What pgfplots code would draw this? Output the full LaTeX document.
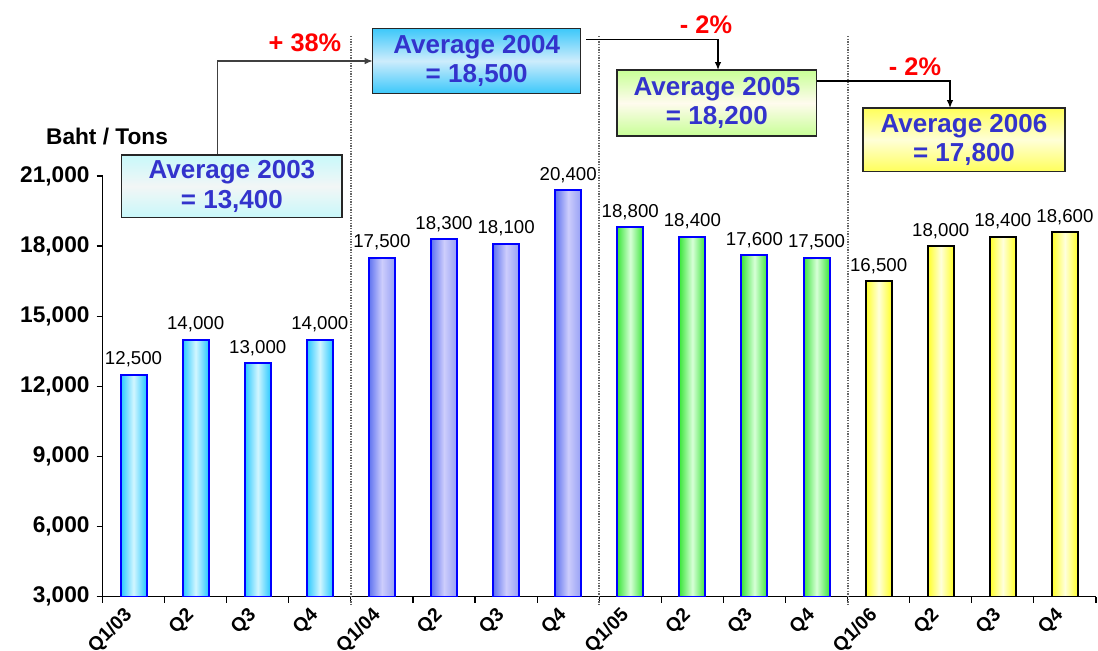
\documentclass[border=0pt]{standalone}
\usepackage{pgfplots}
\pgfplotsset{compat=1.18}
\usepackage{pgfplotstable}
\usepackage{fontspec}
\setmainfont{Liberation Sans}
\usetikzlibrary{arrows.meta}

\definecolor{boxtext}{RGB}{51,51,204}
\definecolor{cA}{RGB}{40,200,255}
\definecolor{cAm}{RGB}{210,246,255}
\definecolor{cBl}{RGB}{95,115,240}
\definecolor{cBm}{RGB}{205,205,252}
\definecolor{cBr}{RGB}{150,160,245}
\definecolor{cC}{RGB}{60,230,60}
\definecolor{cCm}{RGB}{215,255,215}
\definecolor{cD}{RGB}{255,255,40}
\definecolor{cDm}{RGB}{255,255,220}
\definecolor{barblue}{RGB}{0,0,255}

\pgfplotstableread{
x y l
0 12500 12,500
1 14000 14,000
2 13000 13,000
3 14000 14,000
4 17500 17,500
5 18300 18,300
6 18100 18,100
7 20400 20,400
8 18800 18,800
9 18400 18,400
10 17600 17,600
11 17500 17,500
12 16500 16,500
13 18000 18,000
14 18400 18,400
15 18600 18,600
}\tL

\pgfplotsset{
  barbase/.style={ybar, bar width=19.5pt, bar shift=0pt, line width=1.5pt},
  barA/.style={barbase, draw=barblue, left color=cA, right color=cA, middle color=cAm},
  barB/.style={barbase, draw=barblue, left color=cBl, right color=cBr, middle color=cBm},
  barC/.style={barbase, draw=barblue, left color=cC, right color=cC, middle color=cCm},
  barD/.style={barbase, draw=black, left color=cD, right color=cD, middle color=cDm},
}

\begin{document}
\begin{tikzpicture}
\begin{axis}[
  at={(76.875pt,-447.375pt)}, anchor=south west,
  scale only axis, width=745.1pt, height=315.4pt,
  xmin=-0.5, xmax=15.5, ymin=3000, ymax=21000,
  scaled y ticks=false,
  axis x line*=bottom, axis y line*=left,
  axis line style={black, line width=1pt},
  xtick={0,...,15},
  xticklabels={Q1/03,Q2,Q3,Q4,Q1/04,Q2,Q3,Q4,Q1/05,Q2,Q3,Q4,Q1/06,Q2,Q3,Q4},
  major x tick style={draw=none},
  minor xtick={-0.5,0.5,...,15.5},
  minor x tick style={black, line width=0.9pt},
  minor tick length=4.5pt,
  major tick length=4.5pt,
  tick align=outside,
  ytick={3000,6000,...,21000},
  yticklabels={{3,000},{6,000},{9,000},{12,000},{15,000},{18,000},{21,000}},
  major y tick style={black, line width=0.9pt},
  xticklabel style={xshift=-8pt, yshift=-2.5pt, rotate=45, anchor=north east, inner sep=0pt, font=\bfseries\fontsize{14.5}{14.5}\selectfont},
  yticklabel style={font=\bfseries\fontsize{17}{17}\selectfont, inner sep=0pt, xshift=-5pt},
  /pgf/number format/assume math mode=true,
]
\addplot[barA] coordinates {(0,12500)};
\addplot[barA] coordinates {(1,14000)};
\addplot[barA] coordinates {(2,13000)};
\addplot[barA] coordinates {(3,14000)};
\addplot[barB] coordinates {(4,17500)};
\addplot[barB] coordinates {(5,18300)};
\addplot[barB] coordinates {(6,18100)};
\addplot[barB] coordinates {(7,20400)};
\addplot[barC] coordinates {(8,18800)};
\addplot[barC] coordinates {(9,18400)};
\addplot[barC] coordinates {(10,17600)};
\addplot[barC] coordinates {(11,17500)};
\addplot[barD] coordinates {(12,16500)};
\addplot[barD] coordinates {(13,18000)};
\addplot[barD] coordinates {(14,18400)};
\addplot[barD] coordinates {(15,18600)};
\addplot[only marks, mark=none, nodes near coords, point meta=explicit symbolic,
  every node near coord/.append style={font=\fontsize{14}{14}\selectfont, text=black, yshift=2pt}]
  table[x=x,y=y,meta=l] {\tL};
\end{axis}

\begin{scope}[x=0.75pt, y=-0.75pt]
% separators
\foreach \xx in {350.9,599.3,847.7}
  \draw[black!60, line width=1.6pt, dash pattern=on 1pt off 1pt] (\xx,36) -- (\xx,606);
% y axis title
\node[font=\bfseries\fontsize{17}{17}\selectfont] at (107,137) {Baht / Tons};
% connectors
\draw[black!75, line width=1pt, -{Latex[length=6pt,width=5pt]}] (217.3,155) -- (217.3,61) -- (372.7,61);
\draw[black, line width=1pt, -{Latex[length=6pt,width=5pt]}] (586,39.3) -- (718,39.3) -- (718,70);
\draw[black, line width=1pt, -{Latex[length=6pt,width=5pt]}] (817,81) -- (950,81) -- (950,108);
% percent labels
\node[text=red, font=\bfseries\fontsize{19}{19}\selectfont] at (305,43) {+ 38\%};
\node[text=red, font=\bfseries\fontsize{19}{19}\selectfont] at (706,25) {- 2\%};
\node[text=red, font=\bfseries\fontsize{19}{19}\selectfont] at (915,67) {- 2\%};
% boxes
\path[draw=black!85, line width=1pt, top color={rgb,255:red,200;green,248;blue,250}, bottom color={rgb,255:red,200;green,248;blue,250}, middle color={rgb,255:red,242;green,246;blue,246}] (121.7,155) rectangle (342,217.7);
\node[align=center, text=boxtext, font=\bfseries\fontsize{19.5}{22}\selectfont] at (231.9,186.4) {Average 2003\\= 13,400};
\path[draw=black!85, line width=1pt, top color={rgb,255:red,60;green,200;blue,250}, bottom color={rgb,255:red,60;green,200;blue,250}, middle color={rgb,255:red,205;green,236;blue,252}] (372.7,28.3) rectangle (580.7,93.3);
\node[align=center, text=boxtext, font=\bfseries\fontsize{19.5}{22}\selectfont] at (476.7,60.8) {Average 2004\\= 18,500};
\path[draw=black!85, line width=1pt, top color={rgb,255:red,200;green,255;blue,150}, bottom color={rgb,255:red,200;green,255;blue,150}, middle color={rgb,255:red,255;green,251;blue,238}] (617,70) rectangle (816.7,136);
\node[align=center, text=boxtext, font=\bfseries\fontsize{19.5}{22}\selectfont] at (716.9,103) {Average 2005\\= 18,200};
\path[draw=black!85, line width=1pt, top color={rgb,255:red,255;green,255;blue,90}, bottom color={rgb,255:red,255;green,255;blue,90}, middle color={rgb,255:red,255;green,255;blue,215}] (863,108) rectangle (1065,171.7);
\node[align=center, text=boxtext, font=\bfseries\fontsize{19.5}{22}\selectfont] at (964,139.9) {Average 2006\\= 17,800};
\pgfresetboundingbox
\path[use as bounding box] (0,0) rectangle (1098,650);
\end{scope}
\end{tikzpicture}
\end{document}
